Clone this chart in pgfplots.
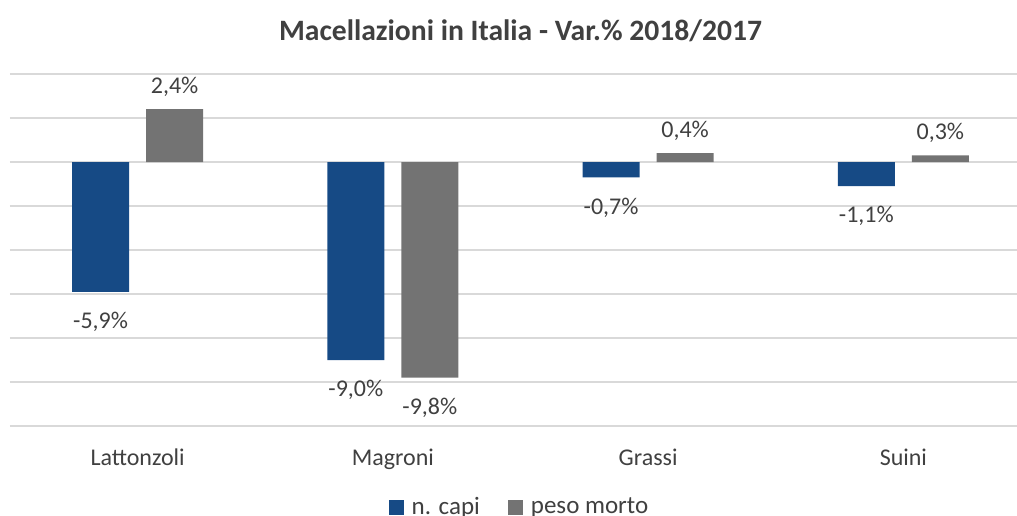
\documentclass[border=0pt]{standalone}
\usepackage{fontspec}
\setmainfont{Carlito}
\usepackage{pgfplots}
\pgfplotsset{compat=1.18}
\definecolor{capi}{RGB}{22,74,133}
\definecolor{peso}{RGB}{115,115,115}
\definecolor{txt}{RGB}{64,64,64}
\definecolor{gridc}{RGB}{217,217,217}

\begin{document}
\begin{tikzpicture}
\begin{axis}[
  at={(5pt,44.5pt)}, anchor=south west,
  scale only axis, width=510.5pt, height=176pt,
  ybar, bar width=28.5pt,
  xmin=-0.5, xmax=3.5, ymin=-12, ymax=4,
  ytick={-12,-10,...,4}, yticklabels={},
  ymajorgrids=true, xmajorgrids=false,
  grid style={draw=gridc,line width=0.7pt},
  axis line style={draw=none}, major tick length=0pt,
  xtick={0,1,2,3},
  xticklabels={Lattonzoli,Magroni,Grassi,Suini},
  xticklabel style={font=\fontsize{12}{14}\selectfont,text=txt,yshift=-8pt},
  title={Macellazioni in Italia - Var.\% 2018/2017},
  title style={font=\fontsize{14.8}{17}\selectfont\bfseries,text=txt,
    at={(0.5,1)},anchor=center,yshift=15.5pt},
  nodes near coords={\pgfmathprintnumber[fixed,fixed zerofill,precision=1,
    use comma,assume math mode=true]{\pgfplotspointmeta}\%},
  nodes near coords align={vertical},
  visualization depends on={y \as \rawy},
  every node near coord/.append style={font=\fontsize{12}{14}\selectfont,
    text=txt,inner sep=6pt,yshift={ifthenelse(\rawy<0,-4,0)*1pt}},
  legend style={at={(0.5,0)},anchor=center,yshift=-40.5pt,draw=none,
    legend columns=2,font=\fontsize{12.5}{14}\selectfont,text=txt,
    /tikz/every odd column/.append style={column sep=2pt},
    /tikz/every even column/.append style={column sep=12pt}},
  legend image code/.code={\fill[#1] (-3.75pt,-3.75pt) rectangle (3.75pt,3.75pt);},
]
\addplot[fill=capi,draw=none,bar shift=-18.5pt] coordinates
  {(0,-5.9) (1,-9.0) (2,-0.7) (3,-1.1)};
\addplot[fill=peso,draw=none,bar shift=18.5pt] coordinates
  {(0,2.4) (1,-9.8) (2,0.4) (3,0.3)};
\legend{n. capi,peso morto}
\end{axis}
\pgfresetboundingbox
\path (0,0) rectangle (508.5pt,257.5pt);
\end{tikzpicture}
\end{document}
